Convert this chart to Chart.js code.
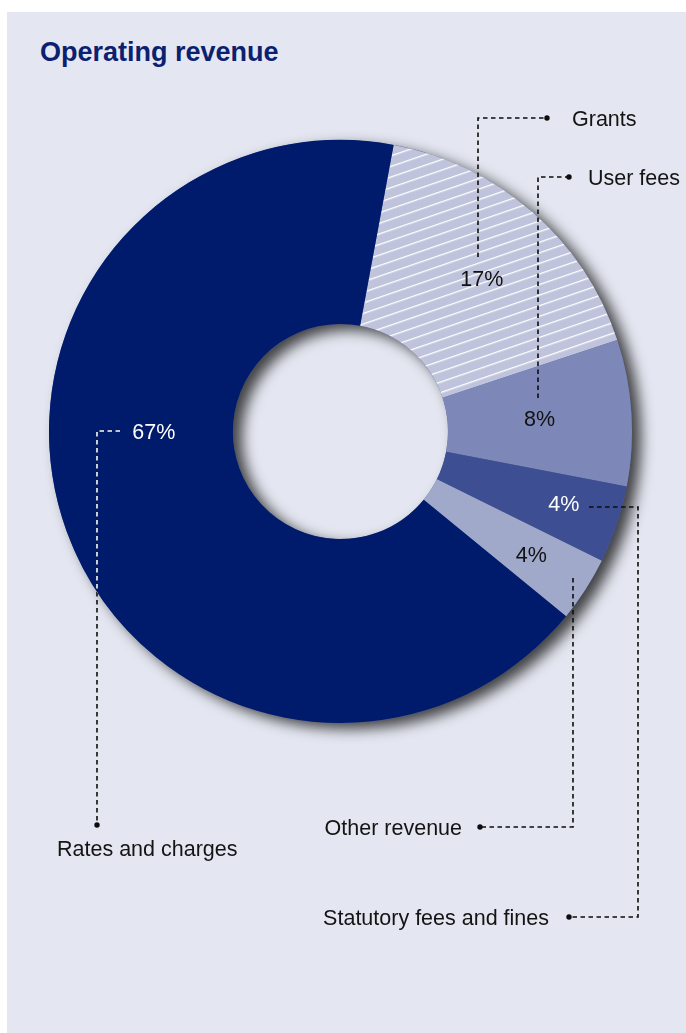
<!DOCTYPE html>
<html><head><meta charset="utf-8">
<script src="https://cdn.jsdelivr.net/npm/chart.js@4/dist/chart.umd.min.js"></script>
<style>
html,body{margin:0;padding:0;background:#ffffff;}
body{width:686px;height:1033px;position:relative;overflow:hidden;}
#panel{position:absolute;left:7px;top:12px;right:0;bottom:0;background:#e4e7f1;}
#title{position:absolute;left:40px;top:39px;margin:0;font:bold 27px "Liberation Sans",Arial,sans-serif;line-height:27px;color:#0b2170;white-space:nowrap;}
#c{position:absolute;left:0;top:0;}
</style></head><body>
<div id="panel"></div>
<div id="title">Operating revenue</div>
<canvas id="c" width="686" height="1033"></canvas>
<script>
// ---- data ----
const categories = ['Grants', 'User fees', 'Statutory fees and fines', 'Other revenue', 'Rates and charges'];
const shares = [17.0, 8.1, 4.3, 3.6, 67.0];
const percentLabels = ['17%', '8%', '4%', '4%', '67%'];

// ---- styles ----
const sliceColors = ['#bfc4dc', '#7d88b8', '#3d4f92', '#a0a9ca', '#001b6c'];
const percentColors = ['#111111', '#111111', '#ffffff', '#111111', '#ffffff'];
// position of % label inside its slice: fraction along angle, fraction across ring
const percentPlace = [[0.525, 0.55], [0.5, 0.5], [0.45, 0.69], [0.5, 0.65], [0.583, 0.43]];
// leader lines: points as offsets from chart centre; last point gets dot; text anchor & alignment
const leaders = [
  {pts: [[137.5, -174.5], [137.5, -313.5], [206.5, -313.5]], text: [231.5, -313.5], align: 'left', white: false},
  {pts: [[197.5, -33.5], [197.5, -254.5], [228.5, -254.5]], text: [247.5, -254.5], align: 'left', white: false},
  {pts: [[248.5, 75.5], [297.5, 75.5], [297.5, 485.5], [228.5, 485.5]], text: [208.5, 485.5], align: 'right', white: false},
  {pts: [[232.5, 146.5], [232.5, 395.5], [139.5, 395.5]], text: [121.5, 395.5], align: 'right', white: false},
  {pts: [[-220.5, -0.5], [-243.5, -0.5], [-243.5, 393.5]], text: [-283.5, 416.5], align: 'left', white: true}
];
const FONT_SIZE = 21.5;
const FONT = FONT_SIZE + 'px "Liberation Sans", Arial, sans-serif';

function hatchPattern(base) {
  const t = document.createElement('canvas');
  t.width = 10; t.height = 10;
  const g = t.getContext('2d');
  g.fillStyle = base; g.fillRect(0, 0, t.width, t.height);
  g.fillStyle = '#ffffff'; g.fillRect(0, 4, t.width, 1.3);
  const ctx = document.getElementById('c').getContext('2d');
  const p = ctx.createPattern(t, 'repeat');
  p.setTransform(new DOMMatrix().rotateSelf(-19));
  return p;
}
const fills = sliceColors.map((c, i) => i === 0 ? hatchPattern(c) : c);

const shadowPlugin = {
  id: 'ringShadow',
  beforeDatasetsDraw(chart) {
    const arc = chart.getDatasetMeta(0).data[0];
    const {x, y, innerRadius, outerRadius} = arc.getProps(['x', 'y', 'innerRadius', 'outerRadius'], true);
    const ctx = chart.ctx;
    ctx.save();
    ctx.shadowColor = 'rgba(0,0,0,0.72)';
    ctx.shadowBlur = 14;
    ctx.shadowOffsetX = 9;
    ctx.shadowOffsetY = 6;
    ctx.beginPath();
    ctx.arc(x, y, outerRadius, 0, Math.PI * 2);
    ctx.moveTo(x + innerRadius, y);
    ctx.arc(x, y, innerRadius, 0, Math.PI * 2, true);
    ctx.fillStyle = '#5a6699';
    ctx.fill();
    ctx.restore();
  }
};

const labelPlugin = {
  id: 'leaderLabels',
  afterDatasetsDraw(chart) {
    const ctx = chart.ctx;
    const meta = chart.getDatasetMeta(0);
    meta.data.forEach((arc, i) => {
      const p = arc.getProps(['x', 'y', 'startAngle', 'endAngle', 'innerRadius', 'outerRadius'], true);
      const cx = p.x, cy = p.y;
      const [fa, fr] = percentPlace[i];
      const a = p.startAngle + fa * (p.endAngle - p.startAngle);
      const r = p.innerRadius + fr * (p.outerRadius - p.innerRadius);
      const lx = cx + r * Math.cos(a), ly = cy + r * Math.sin(a);
      ctx.save();
      ctx.font = FONT;
      ctx.textAlign = 'center';
      ctx.textBaseline = 'alphabetic';
      ctx.fillStyle = percentColors[i];
      ctx.fillText(percentLabels[i], lx, ly + FONT_SIZE * 0.358);
      ctx.restore();

      const L = leaders[i];
      const pts = L.pts.map(q => [cx + q[0], cy + q[1]]);
      const drawPath = (color) => {
        ctx.beginPath();
        ctx.moveTo(pts[0][0], pts[0][1]);
        for (let k = 1; k < pts.length; k++) ctx.lineTo(pts[k][0], pts[k][1]);
        ctx.strokeStyle = color;
        ctx.lineWidth = 1.6;
        ctx.setLineDash([4.5, 3.5]);
        ctx.stroke();
      };
      ctx.save();
      drawPath('#0d0d0d');
      if (L.white) {
        ctx.save();
        ctx.beginPath();
        ctx.arc(cx, cy, p.outerRadius, 0, Math.PI * 2);
        ctx.clip();
        drawPath('#ffffff');
        ctx.restore();
      }
      const end = pts[pts.length - 1];
      ctx.setLineDash([]);
      ctx.beginPath();
      ctx.arc(end[0], end[1], 2.7, 0, Math.PI * 2);
      ctx.fillStyle = '#0d0d0d';
      ctx.fill();
      ctx.font = FONT;
      ctx.textAlign = L.align;
      ctx.textBaseline = 'alphabetic';
      ctx.fillStyle = '#141414';
      ctx.fillText(categories[i], cx + L.text[0], cy + L.text[1] + FONT_SIZE * 0.358);
      ctx.restore();
    });
  }
};

new Chart(document.getElementById('c'), {
  type: 'doughnut',
  data: {
    labels: categories,
    datasets: [{
      data: shares,
      backgroundColor: fills,
      borderWidth: 0,
      hoverOffset: 0,
      offset: 0
    }]
  },
  options: {
    responsive: false,
    animation: false,
    devicePixelRatio: 1,
    rotation: 10.5,
    cutout: '36.9%',
    layout: {padding: {left: 49, right: 54, top: 140, bottom: 310}},
    plugins: {legend: {display: false}, tooltip: {enabled: false}, title: {display: false}},
    events: []
  },
  plugins: [shadowPlugin, labelPlugin]
});
</script>
</body></html>
